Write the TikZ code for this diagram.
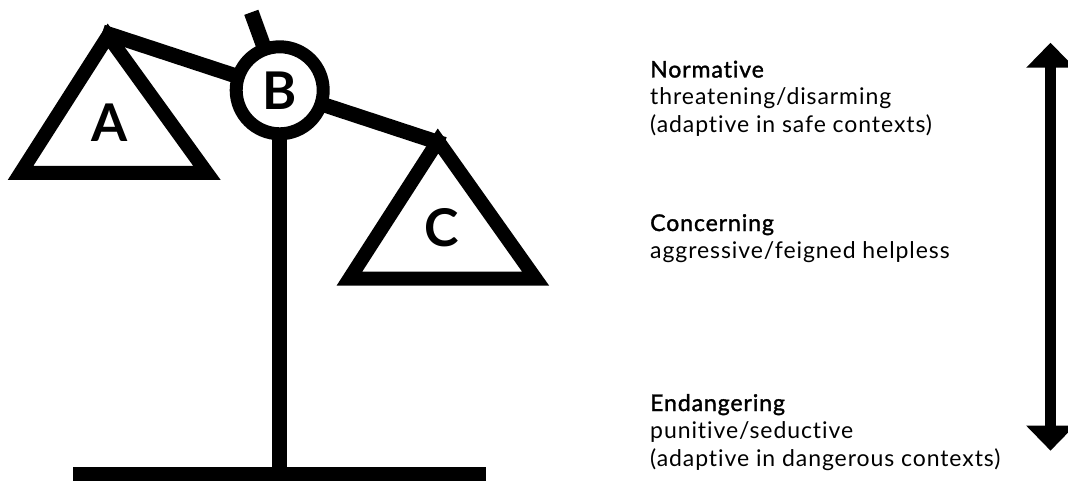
\documentclass[tikz,border=0pt]{standalone}
\usepackage{fontspec}
\setmainfont{Lato}[LetterSpace=4, Ligatures=NoCommon]
\newfontfamily\headfont{Lato}[LetterSpace=4, Ligatures=NoCommon, FakeBold=1.5]
\usepackage{tikz}
\usetikzlibrary{arrows.meta, positioning}

\begin{document}
\begin{tikzpicture}[x=1pt, y=-1pt,
    pan/.style={line width=14pt, miter limit=20},
    bar/.style={line width=15pt},
    letter/.style={font=\fontsize{52}{52}\selectfont\bfseries, inner sep=0pt},
    legend/.style={font=\fontsize{23}{27.5}\selectfont, align=left,
        inner sep=0pt, anchor=base west},
    >={Triangle[length=25pt, width=47pt]}]
    \useasboundingbox (0,0) rectangle (1068,481);
%
    \coordinate (pivot) at (279.7,90.3);
    \coordinate (foot) at (279.7,474);
    % beam, pointer and post sit under the ring
    \draw[bar] (pivot) ++(198.2:186.6) coordinate (beamL)
        -- (pivot) -- ++(18.2:173.2) coordinate (beamR);
    \draw[bar] (pivot) -- ++(-110:83) coordinate (needle);
    \draw[bar] (pivot) -- (foot);
    \draw[line width=14pt] (73,474) -- (486,474);
    % the two pans
    \draw[pan] (108,36) -- (20.5,173) -- (207,173) -- cycle;
    \draw[pan] (438,141) -- (349.5,278.5) -- (535.5,278.5) -- cycle;
    \node[letter] (A) at (110,122.5) {A};
    \node[letter] (C) at (441.7,228) {C};
    \node[letter, circle, draw, fill=white, line width=13pt,
        minimum size=87pt] (B) at (pivot) {B};
%
    % base anchor of a multi-line node is its last line
    \node[legend] (norm) at (650,132.5)
        {{\headfont Normative}\\threatening/disarming\\(adaptive in safe contexts)};
    \node[legend] (conc) at (650,258.5)
        {{\headfont Concerning}\\aggressive/feigned helpless};
    \node[legend] (endg) at (650,466)
        {{\headfont Endangering}\\punitive/seductive\\(adaptive in dangerous contexts)};
%
    \coordinate (up) at (1050.5,42.7);
    \coordinate (down) at (1050.5,450.7);
    \draw[<->, line width=11pt] (up) -- (down);
\end{tikzpicture}
\end{document}
